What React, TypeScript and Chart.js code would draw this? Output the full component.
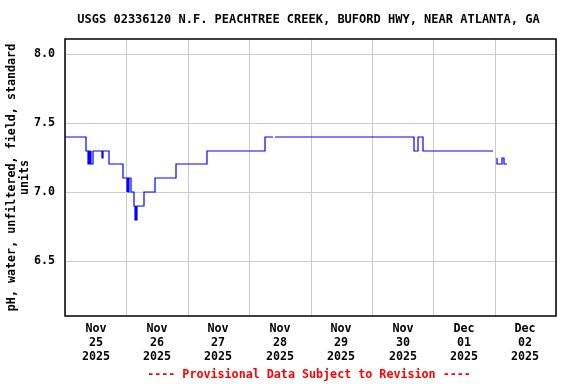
import React, { useEffect, useRef } from 'react';
import { Chart, registerables } from 'chart.js';

Chart.register(...registerables);

const TITLE = 'USGS 02336120 N.F. PEACHTREE CREEK, BUFORD HWY, NEAR ATLANTA, GA';
const FOOTER = '---- Provisional Data Subject to Revision ----';
const Y_TITLE = ['pH, water, unfiltered, field, standard', 'units'];

// x-axis day labels (labels at noon of each day; x = hours since Nov 25 2025 00:00)
const DAY_MONTHS = ['Nov', 'Nov', 'Nov', 'Nov', 'Nov', 'Nov', 'Dec', 'Dec'];
const DAY_NUMS = ['25', '26', '27', '28', '29', '30', '01', '02'];
const DAY_YEARS = ['2025', '2025', '2025', '2025', '2025', '2025', '2025', '2025'];

const Y_TICKS = [6.5, 7.0, 7.5, 8.0];

// change points of the pH record (hours since Nov 25 00:00), null = data gap
const HOURS = [
  0, 8.3, 9.1, 9.4, 9.7, 10.0, 10.3, 11.1, 14.5, 15.0, 17.1, 22.8,
  24.1, 24.4, 24.8, 25.0, 25.7, 27.0, 27.3, 27.6, 27.8, 28.3, 30.9, 35.3,
  43.3, 55.4, 78.1, 81.5, 82.0, 82.2, 136.5, 138.0, 139.9, 167.5, 168.0,
  168.8, 169.0, 171.0, 171.6, 172.7,
];
const PH = [
  7.4, 7.3, 7.2, 7.3, 7.2, 7.3, 7.2, 7.3, 7.25, 7.3, 7.2, 7.1,
  7.0, 7.1, 7.0, 7.1, 7.0, 6.9, 6.8, 6.9, 6.8, 6.9, 7.0, 7.1,
  7.2, 7.3, 7.4, 7.4, null, 7.4, 7.3, 7.4, 7.3, 7.3, null,
  7.25, 7.2, 7.25, 7.2, 7.2,
];

const FONT = '"DejaVu Sans Mono", "Liberation Mono", monospace';

const decorPlugin = {
  id: 'decor',
  afterDraw(chart: any) {
    const { ctx, chartArea: a } = chart;
    ctx.save();
    ctx.strokeStyle = '#000000';
    ctx.lineWidth = 1.5;
    ctx.strokeRect(a.left, a.top, a.right - a.left, a.bottom - a.top);

    ctx.fillStyle = '#000000';
    ctx.font = `bold 12px ${FONT}`;
    ctx.textAlign = 'center';
    ctx.textBaseline = 'middle';
    ctx.fillText(TITLE, 308.5, 20);

    ctx.fillStyle = '#ff0000';
    ctx.font = `bold 11.7px ${FONT}`;
    ctx.fillText(FOOTER, 309, 375);
    ctx.restore();
  },
};

export default function App() {
  const canvasRef = useRef<HTMLCanvasElement | null>(null);

  useEffect(() => {
    const canvas = canvasRef.current;
    if (!canvas) return;
    const points = HOURS.map((h, i) => ({ x: h, y: PH[i] }));
    const chart = new Chart(canvas, {
      type: 'line',
      data: {
        datasets: [
          {
            data: points as any,
            borderColor: '#0000ff',
            borderWidth: 1.2,
            pointRadius: 0,
            stepped: true,
            spanGaps: false,
            fill: false,
          },
        ],
      },
      options: {
        animation: false,
        responsive: false,
        devicePixelRatio: 1,
        layout: { padding: { top: 39, right: 20, left: 0, bottom: 0 } },
        plugins: {
          legend: { display: false },
          tooltip: { enabled: false },
          title: { display: false },
        },
        scales: {
          x: {
            type: 'linear',
            min: 0,
            max: 192,
            alignToPixels: true,
            afterBuildTicks: (scale: any) => {
              const t = [];
              for (let v = 0; v <= 192; v += 12) t.push({ value: v });
              scale.ticks = t;
            },
            afterFit: (scale: any) => {
              scale.height = 68;
            },
            grid: {
              drawTicks: false,
              lineWidth: 1,
              color: (ctx: any) =>
                ctx.tick && ctx.tick.value % 24 === 0 ? '#cccccc' : 'rgba(0,0,0,0)',
            },
            border: { display: false },
            ticks: {
              autoSkip: false,
              maxRotation: 0,
              minRotation: 0,
              padding: 6,
              color: '#000000',
              font: { family: FONT, size: 11.7, weight: 'bold', lineHeight: 1.2 },
              callback: (value: any) => {
                const h = Number(value);
                if (h % 24 !== 12) return '';
                const d = (h - 12) / 24;
                return [DAY_MONTHS[d], DAY_NUMS[d], DAY_YEARS[d]];
              },
            },
          },
          y: {
            type: 'linear',
            min: 6.1,
            max: 8.11,
            alignToPixels: true,
            afterBuildTicks: (scale: any) => {
              scale.ticks = Y_TICKS.map((v) => ({ value: v }));
            },
            afterFit: (scale: any) => {
              scale.width = 65;
            },
            grid: { drawTicks: false, color: '#cccccc', lineWidth: 1 },
            border: { display: false },
            ticks: {
              padding: 10,
              color: '#000000',
              font: { family: FONT, size: 11.7, weight: 'bold' },
              callback: (value: any) => Number(value).toFixed(1),
            },
            title: {
              display: true,
              text: Y_TITLE,
              color: '#000000',
              padding: { top: 5.5, bottom: 0 },
              font: { family: FONT, size: 11.7, weight: 'bold', lineHeight: 13 / 11.7 },
            },
          },
        },
      },
      plugins: [decorPlugin],
    } as any);
    return () => chart.destroy();
  }, []);

  return (
    <div style={{ position: 'absolute', left: 0, top: 0, width: 576, height: 384, background: '#ffffff' }}>
      <canvas ref={canvasRef} width={576} height={384} />
    </div>
  );
}
